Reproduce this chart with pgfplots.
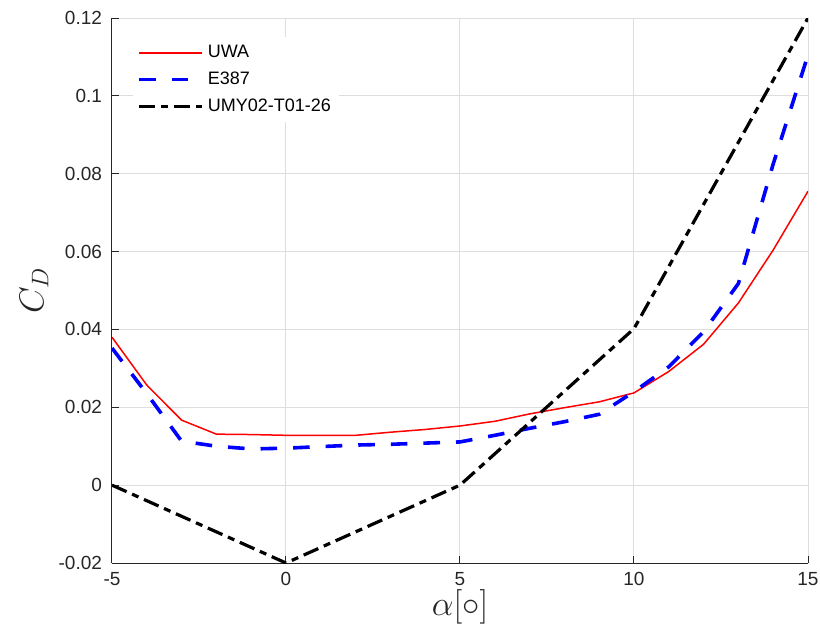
\documentclass[border=0pt]{standalone}
\usepackage{fontspec}
\setmainfont{Liberation Sans}
\usepackage{pgfplots}
\pgfplotsset{compat=1.18}
\definecolor{axgray}{gray}{0.15}
\definecolor{gridgray}{gray}{0.87}
\begin{document}
\begin{tikzpicture}
\begin{axis}[
  name=ax,
  scale only axis,
  width=348pt, height=272.5pt,
  xmin=-5, xmax=15, ymin=-0.02, ymax=0.12,
  xtick={-5,0,5,10,15},
  xticklabels={-5,0,5,10,15},
  ytick={-0.02,0,0.02,0.04,0.06,0.08,0.1,0.12},
  yticklabels={-0.02,0,0.02,0.04,0.06,0.08,0.1,0.12},
  tick pos=left,
  tick align=inside,
  major tick length=3.5pt,
  grid=major,
  major grid style={gridgray, line width=0.5pt},
  axis line style={axgray, line width=0.5pt},
  axis x line*=bottom,
  axis y line*=left,
  tick style={axgray, line width=0.5pt},
  ticklabel style={font=\fontsize{9.5}{11}\selectfont, text=axgray},
  xticklabel style={yshift=-1pt},
  yticklabel style={xshift=-1.5pt},
  xlabel={$\alpha[\circ]$},
  ylabel={$C_D$},
  xlabel style={at={(axis description cs:0.5,-0.08)}, anchor=center, font=\fontsize{16}{19}\selectfont, text=axgray},
  ylabel style={at={(axis description cs:-0.112,0.5)}, anchor=center, font=\fontsize{17}{20}\selectfont, text=axgray},
  legend style={at={(axis description cs:0.03,0.965)}, anchor=north west, draw=none, fill=white,
    font=\fontsize{9}{11}\selectfont, row sep=1.5pt, inner sep=2pt},
  legend cell align=left,
  legend image code/.code={\draw[#1] (0pt,0pt) -- (31.5pt,0pt);},
]
\addplot[draw=red, color=red, line width=0.75pt] coordinates {
 (-5,0.0380) (-4,0.0257) (-3,0.0167) (-2,0.0131) (-1,0.0130) (0,0.0128) (1,0.0128) (2,0.0128)
 (3,0.0136) (4,0.0143) (5,0.0152) (6,0.0164) (7,0.0183) (8,0.0199) (9,0.0214) (10,0.0237)
 (11,0.0292) (12,0.0362) (13,0.0468) (14,0.0604) (15,0.0755)};
\addlegendentry{UWA}
\addplot[blue, line width=1.8pt, dash pattern=on 8.3pt off 8pt] coordinates {
 (-5,0.0352) (-4,0.0235) (-3,0.0113) (-2,0.0100) (-1,0.0093) (0,0.0095) (1,0.0099) (2,0.0103)
 (3,0.0105) (4,0.0108) (5,0.0111) (6,0.0128) (7,0.0146) (8,0.0163) (9,0.0182) (10,0.0240)
 (11,0.0304) (12,0.0394) (13,0.0518) (14,0.0825) (15,0.1105)};
\addlegendentry{E387}
\addplot[black, line width=1.6pt, dash pattern=on 8pt off 3pt on 3.5pt off 3pt] coordinates {
 (-5,0) (0,-0.02) (5,0) (10,0.0402) (15,0.12)};
\addlegendentry{UMY02-T01-26}
\end{axis}
\pgfresetboundingbox
\useasboundingbox ([shift={(-56pt,-35.5pt)}]ax.south west) rectangle ([shift={(6pt,9pt)}]ax.north east);
\end{tikzpicture}
\end{document}
